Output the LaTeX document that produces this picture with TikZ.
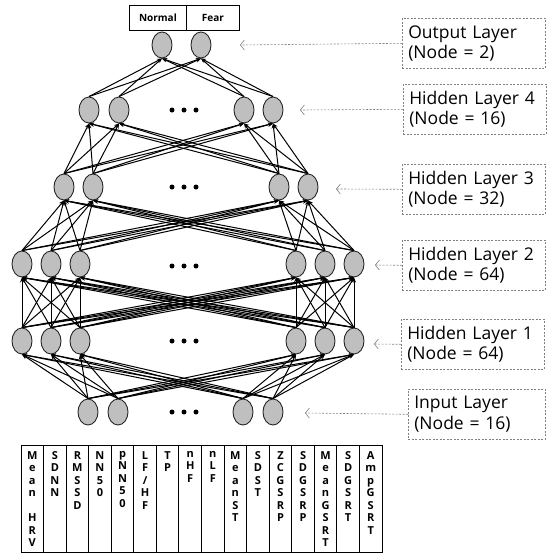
\documentclass[tikz,border=0pt]{standalone}
\usepackage{fontspec}
\setmainfont{Open Sans}
\usetikzlibrary{arrows.meta,shapes.geometric}
\newcommand\mywidesp{\spaceskip=7pt\relax}
\begin{document}
\begin{tikzpicture}[x=1pt,y=-1pt,
 neuron/.style={ellipse, draw=black!85, line width=0.9pt, fill=gray!50, minimum width=20pt, minimum height=26pt, inner sep=0},
 conn/.style={line width=1pt, -{Stealth[length=5pt,width=4pt]}},
 lab/.style={draw=gray, dash pattern=on 2pt off 1.5pt, line width=0.6pt, align=left, font=\fontsize{17.5}{20.5}\selectfont\mywidesp, inner xsep=6pt, inner ysep=0pt, text width=131pt, minimum height=50pt, anchor=north west},
 ptr/.style={gray, dash pattern=on 2pt off 1.5pt, line width=0.6pt, -{Straight Barb[length=4pt,width=10pt]}},
 dotc/.style={circle, fill=black, inner sep=0, minimum size=5pt},
 outbox/.style={draw, line width=0.9pt, minimum height=25pt, inner sep=0, anchor=north west, font=\fontsize{10}{12}\selectfont\bfseries},
 colt/.style={anchor=north, align=center, inner sep=0, font=\fontsize{11}{12.5}\selectfont\bfseries}]
\useasboundingbox (0,0) rectangle (549,554);
% output labels
\node[outbox, minimum width=57pt] (nm) at (129,5) {Normal};
\node[outbox, minimum width=53pt] (fr) at (186,5) {Fear};
% layers
\foreach \n/\x in {1/88,2/118,3/243,4/273} \node[neuron] (a\n) at (\x,412) {};
\foreach \n/\x in {1/22,2/51,3/80,4/296,5/325,6/354} \node[neuron] (b\n) at (\x,341) {};
\foreach \n/\x in {1/22,2/51,3/80,4/296,5/325,6/354} \node[neuron] (c\n) at (\x,264) {};
\foreach \n/\x in {1/64,2/93,3/279,4/308} \node[neuron] (d\n) at (\x,187) {};
\foreach \n/\x in {1/89,2/119,3/244,4/273} \node[neuron] (e\n) at (\x,110) {};
\foreach \n/\x in {1/162,2/201} \node[neuron] (f\n) at (\x,45) {};
% dots
\foreach \y/\l in {412/a,341/b,266/c,187/d,110/e}
  \foreach \k/\x in {1/172,2/184,3/196} \node[dotc] (dt\l\k) at (\x,\y) {};
% connections
\foreach \i in {1,...,4} \foreach \j in {1,...,6} \draw[conn] (a\i.north) -- (b\j.south);
\foreach \i in {1,...,6} \foreach \j in {1,...,6} \draw[conn] (b\i.north) -- (c\j.south);
\foreach \i in {1,...,6} \foreach \j in {1,...,4} \draw[conn] (c\i.north) -- (d\j.south);
\foreach \i in {1,...,4} \foreach \j in {1,...,4} \draw[conn] (d\i.north) -- (e\j.south);
\foreach \i in {1,...,4} \foreach \j in {1,...,2} \draw[conn] (e\i.north) -- (f\j.south);
% layer labels
\node[lab] (lo) at (402,18) {Output Layer\\(Node = 2)};
\node[lab] (l4) at (403,84) {Hidden Layer 4\\(Node = 16)};
\node[lab] (l3) at (402,164) {Hidden Layer 3\\(Node = 32)};
\node[lab] (l2) at (402,240) {Hidden Layer 2\\(Node = 64)};
\node[lab] (l1) at (401,319) {Hidden Layer 1\\(Node = 64)};
\node[lab, text width=125pt] (li) at (408,389) {Input Layer\\(Node = 16)};
\coordinate (po) at (240,45);
\coordinate (p4) at (300,110);
\coordinate (p3) at (336,189);
\coordinate (p2) at (375,265);
\coordinate (p1) at (374,344);
\coordinate (pi) at (305,413);
\draw[ptr] (lo.west) -- (po);
\draw[ptr] (l4.west) -- (p4);
\draw[ptr] (l3.west) -- (p3);
\draw[ptr] (l2.west) -- (p2);
\draw[ptr] (l1.west) -- (p1);
\draw[ptr] (li.west) -- (pi);
% input feature table
\draw[line width=0.9pt] (21,445) rectangle (382,552);
\foreach \k in {1,...,15} \draw[line width=0.9pt] ({21+22.5625*\k},445) -- ({21+22.5625*\k},552);
\foreach \k/\t in {0/{M\\e\\a\\n\\\mbox{}\\H\\R\\V},1/{S\\D\\N\\N},2/{R\\M\\S\\S\\D},3/{N\\N\\5\\0},4/{p\\N\\N\\5\\0},5/{L\\F\\/\\H\\F},6/{T\\P},7/{n\\H\\F},8/{n\\L\\F},9/{M\\e\\a\\n\\S\\T},10/{S\\D\\S\\T},11/{Z\\C\\G\\S\\R\\P},12/{S\\D\\G\\S\\R\\P},13/{M\\e\\a\\n\\G\\S\\R\\T},14/{S\\D\\G\\S\\R\\T},15/{A\\m\\p\\G\\S\\R\\T}}
  \node[colt] (t\k) at ({21+22.5625*(\k+0.5)},451) {\t};
\end{tikzpicture}
\end{document}
